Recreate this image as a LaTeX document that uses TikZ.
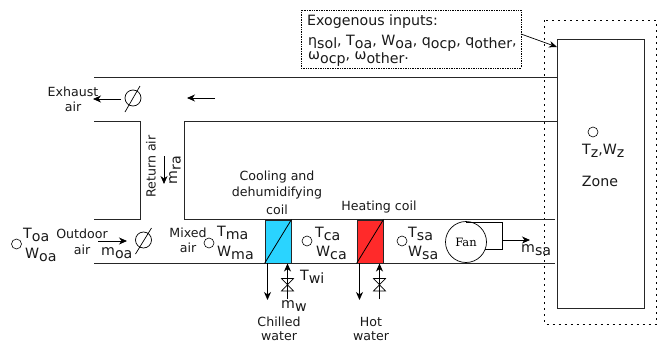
\documentclass[tikz,border=0pt]{standalone}
\usepackage{fontspec}
\setmainfont{DejaVu Sans}
\newfontfamily\fanfont{DejaVu Serif}
\usetikzlibrary{arrows.meta}
\newcommand\lo[1]{\raisebox{-0.26em}{#1}}
\definecolor{coolc}{HTML}{2AD4FF}
\definecolor{heatc}{HTML}{FF2A2A}
\tikzset{
  x=1pt,y=-1pt,
  duct/.style={line width=0.9pt,draw=black!85},
  flow/.style={line width=0.8pt,-{Stealth[length=8pt,width=7pt,inset=2.5pt]}},
  sensor/.style={circle,draw,line width=0.6pt,minimum size=10pt,inner sep=0pt},
  damper/.style={circle,draw,line width=0.7pt,minimum size=16pt,inner sep=0pt},
  lab/.style={inner sep=0pt,font=\fontsize{12.6}{14}\selectfont,text=black!90},
  var/.style={inner sep=0pt,anchor=base west,font=\fontsize{14.2}{16}\selectfont,text=black!90},
  coil/.style={draw=black!85,line width=0.9pt,minimum width=26pt,minimum height=43pt,inner sep=0pt},
  dots/.style={draw,line width=0.7pt,densely dotted},
  dashdots/.style={draw,line width=0.9pt,dash pattern=on 2pt off 4pt},
  valve/.style={line width=0.7pt},
}
\begin{document}
\begin{tikzpicture}
\useasboundingbox (0,0) rectangle (657,343);
% zone
\node[draw=black!85,line width=1pt,minimum width=87pt,minimum height=269pt,inner sep=0pt] (zone) at (600.5,173.5) {};
\draw[dashdots] (544.5,20) rectangle (656,324);
% ducts
\draw[duct] (94,77) -- (557,77);
\draw[duct] (94,121) -- (140.5,121) -- (140.5,219) -- (94,219);
\draw[duct] (557,121) -- (184,121) -- (184,219.5) -- (555,219.5);
\draw[duct] (94,263) -- (555,263);
% dampers
\node[damper] (dex) at (133,98) {};
\draw[line width=0.7pt] (125,112) -- (140,86);
\node[damper] (doa) at (143.5,240) {};
\draw[line width=0.7pt] (135.5,254) -- (151.5,228);
\coordinate (exA) at (121,99); \coordinate (exB) at (93,99);
\draw[flow] (exA) -- (exB);
\coordinate (raA) at (215,98); \coordinate (raB) at (187,98);
\draw[flow] (raA) -- (raB);
\coordinate (reA) at (164,156); \coordinate (reB) at (164,184);
\draw[flow] (reA) -- (reB);
\coordinate (oaA) at (98,241); \coordinate (oaB) at (127,241);
\draw[flow] (oaA) -- (oaB);
% coils
\node[coil,fill=coolc] (cc) at (278,241.5) {};
\draw[line width=0.8pt] (cc.south west) -- (cc.north east);
\node[coil,fill=heatc] (hc) at (370,241.5) {};
\draw[line width=0.8pt] (hc.south west) -- (hc.north east);
% water
\coordinate (cwA) at (267.5,263); \coordinate (cwB) at (267.5,300);
\draw[flow] (cwA) -- (cwB);
\coordinate (cwC) at (287.5,299); \coordinate (cwD) at (287.5,263.5);
\draw[flow] (cwC) -- (cwD);
\draw[valve] (281.5,278.5) -- (293.5,278.5) -- (281.5,291) -- (293.5,291) -- cycle;
\coordinate (hwA) at (359.5,263); \coordinate (hwB) at (359.5,300);
\draw[flow] (hwA) -- (hwB);
\coordinate (hwC) at (379.5,299); \coordinate (hwD) at (379.5,263.5);
\draw[flow] (hwC) -- (hwD);
\draw[valve] (373.5,278.5) -- (385.5,278.5) -- (373.5,291) -- (385.5,291) -- cycle;
% fan
\node[circle,draw,line width=0.7pt,minimum size=41pt,inner sep=0pt,font=\fanfont\fontsize{11.5}{13}\selectfont] (fan) at (466,242) {Fan};
\coordinate (fA) at (466,222); \coordinate (fB) at (502,222); \coordinate (fC) at (502,249); \coordinate (fD) at (485,249);
\draw[line width=0.7pt] (fA) -- (fB) -- (fC) -- (fD);
\coordinate (fE) at (502,240); \coordinate (fF) at (530,240);
\draw[flow] (fE) -- (fF);
% sensors
\node[sensor] (s1) at (16.5,244) {};
\node[sensor] (s2) at (209,243) {};
\node[sensor] (s3) at (307,241) {};
\node[sensor] (s4) at (402,241) {};
\node[sensor] (s5) at (593,132) {};
% exogenous box
\node[dots,minimum width=220pt,minimum height=58pt,inner sep=0pt] (exo) at (411,39) {};
\coordinate (exoA) at (521,34); \coordinate (zoneA) at (557,47);
\draw[line width=0.7pt,-{Stealth[length=8pt,width=6.5pt,inset=2.5pt]}] (exoA) -- (zoneA);
\node[var] (e1) at (307,25) {Exogenous inputs:};
\node[var] (e2) at (308,45) {η\lo{sol}, T\lo{oa}, W\lo{oa}, q\lo{ocp}, q\lo{other},};
\node[var] (e3) at (308,59.5) {ω\lo{ocp}, ω\lo{other}.};
% labels
\node[lab] (t1) at (73,92) {Exhaust};
\node[lab] (t2) at (73,107) {air};
\node[lab,rotate=90] (t3) at (151,166.5) {Return air};
\node[var,anchor=center,rotate=90] (t4) at (175,170) {m\lo{ra}};
\node[var] (t5) at (23,238) {T\lo{oa}};
\node[var] (t6) at (25,258) {W\lo{oa}};
\node[lab] (t7) at (82,234) {Outdoor};
\node[lab] (t8) at (82,250) {air};
\node[var] (t9) at (101,255) {m\lo{oa}};
\node[lab] (t10) at (188,233) {Mixed};
\node[lab] (t11) at (188,248) {air};
\node[var] (t12) at (217,236) {T\lo{ma}};
\node[var] (t13) at (217,256) {W\lo{ma}};
\node[var] (t14) at (315,237) {T\lo{ca}};
\node[var] (t15) at (316,256) {W\lo{ca}};
\node[var] (t16) at (408,237) {T\lo{sa}};
\node[var] (t17) at (408,256) {W\lo{sa}};
\node[lab] (t18) at (277,177) {Cooling and};
\node[lab] (t19) at (277,193) {dehumidifying};
\node[lab] (t20) at (277,210) {coil};
\node[lab] (t21) at (379,207) {Heating coil};
\node[var] (t22) at (300,280) {T\lo{wi}};
\node[var] (t23) at (281,308) {m\lo{w}};
\node[lab] (t24) at (279,322) {Chilled};
\node[lab] (t25) at (279,336.5) {water};
\node[lab] (t26) at (371,322) {Hot};
\node[lab] (t27) at (371,336.5) {water};
\node[var] (t28) at (521,252) {m\lo{sa}};
\node[var] (t29) at (582,154) {T\lo{z},W\lo{z}};
\node[var,anchor=center] (t30) at (600,181) {Zone};
\end{tikzpicture}
\end{document}
